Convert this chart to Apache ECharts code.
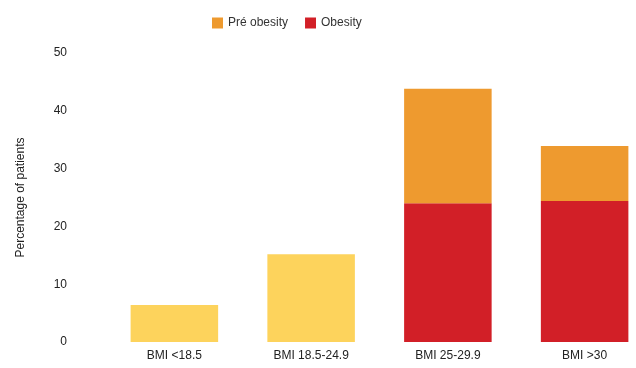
<!DOCTYPE html>
<html><head><meta charset="utf-8">
<script src="https://cdn.jsdelivr.net/npm/echarts@6/dist/echarts.min.js"></script>
<style>html,body{margin:0;padding:0;background:#fff}#c{width:636px;height:368px}</style>
</head><body><div id="c"></div>
<script>
const categories = ['BMI <18.5', 'BMI 18.5-24.9', 'BMI 25-29.9', 'BMI >30'];
const normalValues = [6.4, 15.2, null, null];
const obesityValues = [null, null, 24.0, 24.4];
const preObesityValues = [null, null, 19.8, 9.5];
const yTicks = [0, 10, 20, 30, 40, 50];

const chart = echarts.init(document.getElementById('c'));
const font = 'Liberation Sans, Arial, sans-serif';
chart.setOption({
  animation: false,
  legend: {
    data: ['Pré obesity', 'Obesity'],
    top: 12, left: 207,
    itemWidth: 11, itemHeight: 11, itemGap: 17,
    icon: 'rect',
    textStyle: { fontFamily: font, fontSize: 12, color: '#333' }
  },
  grid: { left: 106, top: 53, width: 547, height: 289, containLabel: false, outerBoundsMode: 'none' },
  xAxis: {
    type: 'category', data: categories,
    axisLine: { show: false }, axisTick: { show: false },
    axisLabel: { fontFamily: font, fontSize: 12, color: '#222', margin: 8 }
  },
  yAxis: {
    type: 'value', min: yTicks[0], max: yTicks[yTicks.length - 1], interval: 10,
    name: 'Percentage of patients', nameLocation: 'middle', nameGap: 79,
    nameTextStyle: { fontFamily: font, fontSize: 12, color: '#222' },
    axisLine: { show: false }, axisTick: { show: false },
    splitLine: { show: false },
    axisLabel: { fontFamily: font, fontSize: 12, color: '#222', margin: 39 }
  },
  series: [
    { name: 'Normal', type: 'bar', stack: 's', data: normalValues, barWidth: '64%', itemStyle: { color: '#FDD35C' } },
    { name: 'Obesity', type: 'bar', stack: 's', data: obesityValues, barWidth: '64%', itemStyle: { color: '#D21F27' } },
    { name: 'Pré obesity', type: 'bar', stack: 's', data: preObesityValues, barWidth: '64%', itemStyle: { color: '#EE9A2F' } }
  ]
});
</script></body></html>
